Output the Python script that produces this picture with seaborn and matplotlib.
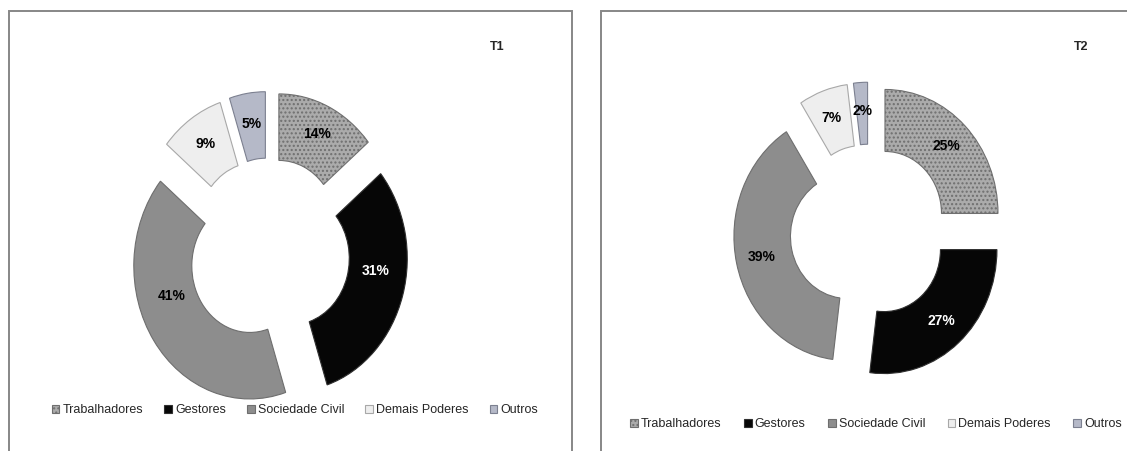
import matplotlib
matplotlib.use("Agg")
import numpy as np
import matplotlib.pyplot as plt
from matplotlib.patches import Rectangle
import seaborn as sns

categories = ["Trabalhadores", "Gestores", "Sociedade Civil", "Demais Poderes", "Outros"]
t1_values = [14, 31, 41, 9, 5]
t2_values = [25, 27, 39, 7, 2]
titles = ["T1", "T2"]

sns.set_theme(style="white")
plt.rcParams["font.family"] = ["Liberation Sans", "DejaVu Sans"]

W, H = 1127, 451
fig = plt.figure(figsize=(W / 100, H / 100), dpi=100)
fig.patch.set_facecolor("white")

face = ["#ababab", "#060606", "#8d8d8d", "#eeeeee", "#b5b9c8"]
hatches = ["....", None, None, None, None]
edge = ["#6f6f6f", "#303030", "#6e6e6e", "#a8a8a8", "#7c8090"]
txtcol = ["black", "white", "black", "black", "black"]

def frame(x0, x1, y0):
    r = Rectangle((x0 / W, -0.2), (x1 - x0) / W, 1.2 - y0 / H,
                  transform=fig.transFigure, fill=False,
                  edgecolor="#878787", lw=1.4, zorder=0)
    fig.add_artist(r)

frame(9, 572, 11)
frame(601, 1160, 11)

panels = [
    dict(vals=t1_values, x0=9, x1=572, cx=269, cy=251, rx=116, ry=133,
         tpos=(497, 47), ly=410, lx=295, colsp=1.7,
         lab_off=[0, 8.8, -15.6, 0, 0], lab_r=[0.77, 0.735, 0.71, 0.77, 0.77]),
    dict(vals=t2_values, x0=601, x1=1127, cx=869, cy=231, rx=113, ry=124,
         tpos=(1081, 47), ly=424, lx=876, colsp=1.8,
         lab_off=[0, 0, 0, 0, 0], lab_r=[0.77, 0.77, 0.77, 0.77, 0.77]),
]

for p, title in zip(panels, titles):
    x0, x1 = p["x0"], p["x1"]
    y0, y1 = 0, H
    ax = fig.add_axes([x0 / W, 0, (x1 - x0) / W, 1])
    wedges, texts, autotexts = ax.pie(
        p["vals"], startangle=90, counterclock=False,
        explode=[0.2] * 5, radius=1.0, colors=face,
        wedgeprops=dict(width=0.5, linewidth=0.8),
        autopct="%1.0f%%", pctdistance=0.77,
        textprops=dict(fontsize=10, fontweight="bold"))
    for w, h, ec in zip(wedges, hatches, edge):
        w.set_edgecolor(ec)
        if h:
            w.set_hatch(h)
    for w, t, c, off, r in zip(wedges, autotexts, txtcol, p["lab_off"], p["lab_r"]):
        t.set_color(c)
        mid = np.deg2rad((w.theta1 + w.theta2) / 2 + off)
        ccx, ccy = w.center
        t.set_position((ccx + r * np.cos(mid), ccy + r * np.sin(mid)))
    ax.set_aspect("auto")
    cx, cy, rx, ry = p["cx"], p["cy"], p["rx"], p["ry"]
    ax.set_xlim((x0 - cx) / rx, (x1 - cx) / rx)
    ax.set_ylim((cy - y1) / ry, (cy - y0) / ry)
    ax.axis("off")

    fig.text(p["tpos"][0] / W, 1 - p["tpos"][1] / H, title,
             fontsize=9, fontweight="bold", ha="center", va="center")

    fig.legend(wedges, categories, loc="center",
               bbox_to_anchor=(p["lx"] / W, 1 - p["ly"] / H),
               ncol=5, frameon=False, fontsize=9,
               handlelength=0.6, handleheight=0.6,
               handletextpad=0.25, columnspacing=p["colsp"])

fig.savefig("out.png", dpi=100, facecolor="white")
